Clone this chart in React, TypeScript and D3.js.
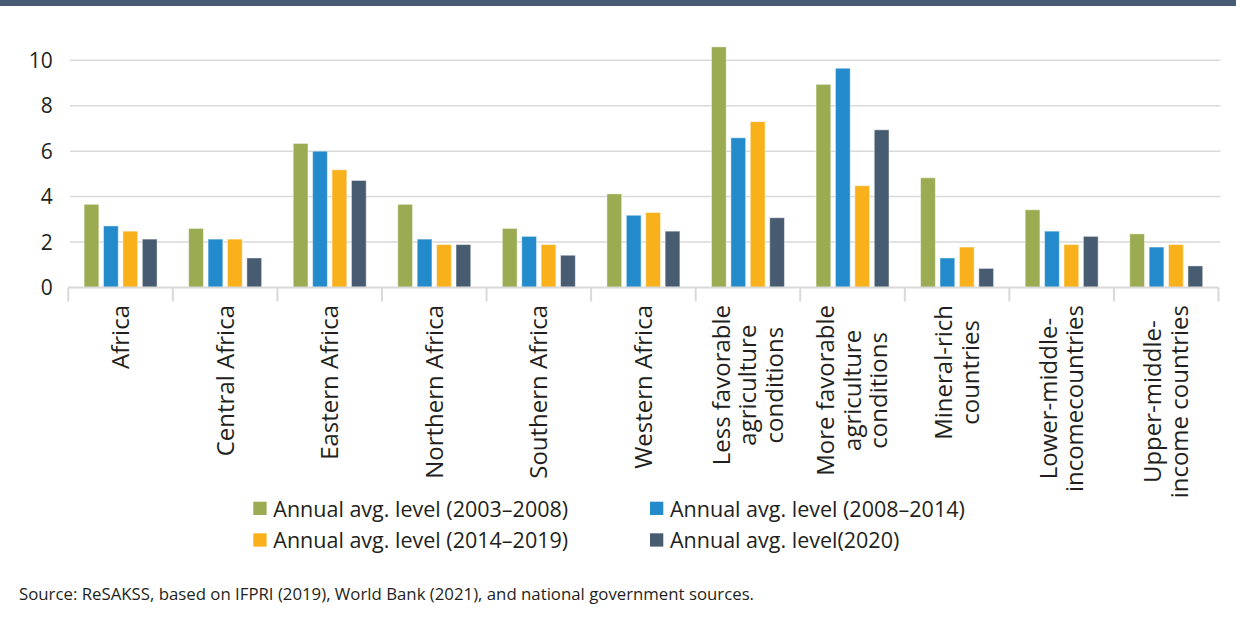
import React from "react";
import * as d3 from "d3";

const categories: string[][] = [
  ["Africa"],
  ["Central Africa"],
  ["Eastern Africa"],
  ["Northern Africa"],
  ["Southern Africa"],
  ["Western Africa"],
  ["Less favorable", "agriculture", "conditions"],
  ["More favorable", "agriculture", "conditions"],
  ["Mineral-rich", "countries"],
  ["Lower-middle-", "incomecountries"],
  ["Upper-middle-", "income countries"],
];

const seriesNames = [
  "Annual avg. level (2003\u20132008)",
  "Annual avg. level (2008\u20132014)",
  "Annual avg. level (2014\u20132019)",
  "Annual avg. level(2020)",
];

const s2003_2008 = [3.66, 2.6, 6.34, 3.66, 2.6, 4.12, 10.59, 8.94, 4.83, 3.42, 2.36];
const s2008_2014 = [2.71, 2.13, 6.0, 2.13, 2.25, 3.18, 6.59, 9.65, 1.3, 2.48, 1.78];
const s2014_2019 = [2.48, 2.13, 5.18, 1.89, 1.89, 3.3, 7.3, 4.48, 1.78, 1.89, 1.89];
const s2020 = [2.13, 1.3, 4.71, 1.89, 1.42, 2.48, 3.07, 6.94, 0.84, 2.25, 0.95];

const yTicks = [0, 2, 4, 6, 8, 10];

const colors = ["#9aab52", "#238bcb", "#f8b11b", "#475c70"];
const FONT = "'Open Sans', 'Noto Sans', sans-serif";
const TEXT = "#231f20";

const measureCanvas = typeof document !== "undefined" ? document.createElement("canvas") : null;
function measure(text: string, size: number): number {
  if (!measureCanvas) return text.length * size * 0.55;
  const ctx = measureCanvas.getContext("2d")!;
  ctx.font = `${size}px 'Open Sans'`;
  return ctx.measureText(text).width;
}

export default function App() {
  const W = 1236;
  const H = 623;
  const left = 68.3;
  const right = 1218.5;
  const top = 60.3;
  const bottom = 287.5;

  const allSeries = [s2003_2008, s2008_2014, s2014_2019, s2020];
  const keys = categories.map((c) => c.join(" "));

  const x0 = d3.scaleBand<string>().domain(keys).range([left, right]).paddingInner(0).paddingOuter(0);
  const x1 = d3
    .scaleBand<number>()
    .domain([0, 1, 2, 3])
    .range([15.8, x0.bandwidth() - 15.8])
    .paddingInner(0.24)
    .paddingOuter(0);
  const y = d3.scaleLinear().domain([0, 10]).range([bottom, top]);

  const labelSize = 24;
  const lineH = 26.5;
  const labelTop = 305;

  return (
    <div style={{ position: "fixed", left: 0, top: 0, width: W, height: H, background: "#fff" }}>
      <svg width={W} height={H} style={{ display: "block" }} fontFamily={FONT}>
        <rect x={0} y={0} width={W} height={6} fill="#475c72" />
        {yTicks.map((t) => (
          <g key={t}>
            {t !== 0 && (
              <line x1={70} x2={1220.5} y1={y(t)} y2={y(t)} stroke="#d9d9d9" strokeWidth={1.5} />
            )}
            <text x={52.7} y={y(t)} dy="0.36em" textAnchor="end" fontSize={21} fill={TEXT}>
              {t}
            </text>
          </g>
        ))}
        {keys.map((k, ci) => (
          <g key={k} transform={`translate(${x0(k)},0)`}>
            {allSeries.map((s, si) => (
              <rect
                key={si}
                x={x1(si)}
                y={y(s[ci])}
                width={x1.bandwidth()}
                height={bottom - y(s[ci])}
                fill={colors[si]}
                stroke="rgba(255,255,255,0.45)"
                strokeWidth={1}
              />
            ))}
          </g>
        ))}
        <line x1={left} x2={right} y1={bottom} y2={bottom} stroke="#d9d9d9" strokeWidth={2} />
        {d3.range(keys.length + 1).map((i) => {
          const xx = i < keys.length ? (x0(keys[i]) as number) : right;
          return (
            <line key={i} x1={xx} x2={xx} y1={bottom} y2={bottom + 14} stroke="#d9d9d9" strokeWidth={2} />
          );
        })}
        {categories.map((lines, ci) => {
          const cx = (x0(keys[ci]) as number) + x0.bandwidth() / 2;
          const maxW = Math.max(...lines.map((l) => measure(l, labelSize)));
          const n = lines.length;
          return (
            <g key={ci} transform={`translate(${cx},${labelTop}) rotate(-90)`}>
              {lines.map((l, li) => (
                <text
                  key={li}
                  x={-maxW / 2}
                  y={(li - (n - 1) / 2) * lineH}
                  dy="0.35em"
                  textAnchor="middle"
                  fontSize={labelSize}
                  fill={TEXT}
                >
                  {l}
                </text>
              ))}
            </g>
          );
        })}
        {seriesNames.map((name, i) => {
          const col = i % 2;
          const row = Math.floor(i / 2);
          const lx = col === 0 ? 253.3 : 650;
          const ly = row === 0 ? 501.7 : 533.3;
          return (
            <g key={name}>
              <rect x={lx} y={ly} width={13.3} height={13.3} fill={colors[i]} />
              <text x={lx + 20} y={ly + 15} fontSize={21.5} fill={TEXT}>
                {name}
              </text>
            </g>
          );
        })}
        <text x={19} y={600} fontSize={16.8} fill={TEXT}>
          Source: ReSAKSS, based on IFPRI (2019), World Bank (2021), and national government sources.
        </text>
      </svg>
    </div>
  );
}
